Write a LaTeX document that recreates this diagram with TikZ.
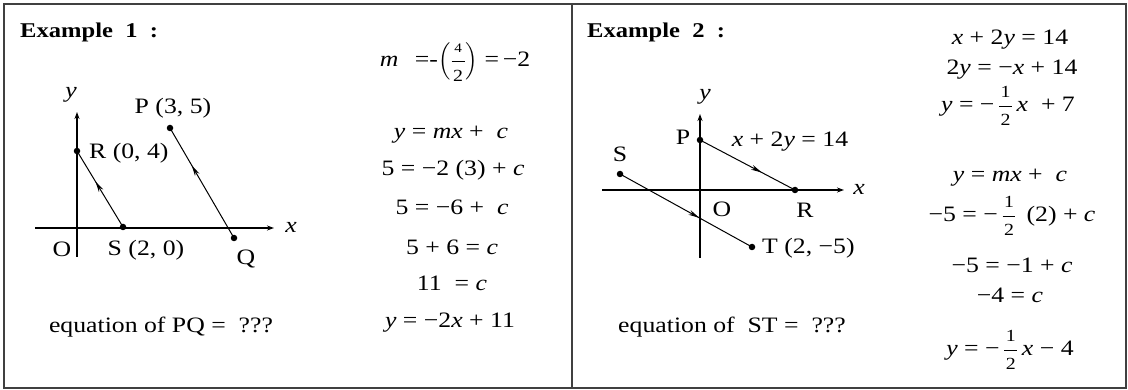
\documentclass[tikz,border=0pt]{standalone}
\usepackage{fontspec}
\usepackage{amsmath}
\setmainfont{Liberation Serif}[FakeStretch=1.17]
\usetikzlibrary{arrows.meta,decorations.markings}
\newcommand{\vi}[1]{\textit{#1}}
\newcommand{\smn}[1]{\text{\fontsize{17}{18}\selectfont\hspace{1.5pt}#1\hspace{1.5pt}}}
\newcommand{\hlf}{\ensuremath{\,\genfrac{}{}{0.6pt}{0}{\smn{1}}{\smn{2}}\,}}
\tikzset{
  txt/.style={inner sep=0pt, font=\fontsize{22}{26}\selectfont},
  ttl/.style={inner sep=0pt, font=\fontsize{21}{25}\selectfont\bfseries},
  dot/.style={circle, fill=black, inner sep=0pt, minimum size=6.5pt},
  axis/.style={line width=1.5pt, -{Stealth[length=7pt,width=5pt]}},
  seg/.style={line width=1pt, postaction={decorate},
    decoration={markings, mark=at position #1 with {\arrow{Stealth[length=11pt,width=5pt]}}}},
  frame/.style={line width=1.2pt, draw=black!75}
}
\begin{document}
\begin{tikzpicture}[x=1pt,y=-1pt]
\useasboundingbox (0,0) rectangle (1128,390);
% frame
\draw[frame] (4,4) rectangle (1126,388);
\draw[frame] (572,4) -- (572,388);

% ---------- Example 1 ----------
\node[ttl, anchor=west] (t1) at (20,32) {Example\ \ 1\ \ :};
\coordinate (y1b) at (77,257);
\coordinate (y1t) at (77,112);
\coordinate (x1l) at (35,228);
\coordinate (x1r) at (274,228);
\draw[axis] (y1b) -- (y1t);
\draw[axis] (x1l) -- (x1r);
\node[txt] (ly1) at (71,95) {\vi{y}};
\node[txt] (lx1) at (291,227) {\vi{x}};
\node[txt] (lo1) at (62,249) {O};
\node[dot] (R1) at (77,151) {};
\node[dot] (S1) at (123,227) {};
\node[dot] (P1) at (170,128) {};
\node[dot] (Q1) at (234,238) {};
\node[txt, anchor=west] (lR1) at (89,153) {R (0, 4)};
\node[txt] (lS1) at (146,250) {S (2, 0)};
\node[txt] (lP1) at (173,108) {P (3, 5)};
\node[txt] (lQ1) at (246,259) {Q};
\draw[seg=0.6] (S1.center) -- (R1.center);
\draw[seg=0.66] (Q1.center) -- (P1.center);
\node[txt] (q1) at (161,327) {equation of PQ =\ \ ???};

% equations 1
\node[txt] (e1) at (455,62) {\vi{m}\ \ \,=-$\left(\genfrac{}{}{0.6pt}{0}{\text{\fontsize{13}{14}\selectfont\hspace{2pt}4\hspace{2pt}}}{\smn{2}}\right)$ =\,−2};
\node[txt] (e2) at (451,135) {\vi{y} = \vi{mx} +\ \ \vi{c}};
\node[txt] (e3) at (453,170) {5 = −2 (3) + \vi{c}};
\node[txt] (e4) at (452,207) {5 = −6 +\ \ \vi{c}};
\node[txt] (e5) at (452,247) {5 + 6 = \vi{c}};
\node[txt] (e6) at (452,283) {11\ \ = \vi{c}};
\node[txt] (e7) at (450,323) {\vi{y} = −2\vi{x} + 11};

% ---------- Example 2 ----------
\node[ttl, anchor=west] (t2) at (587,32) {Example\ \ 2\ \ :};
\coordinate (y2b) at (700,258);
\coordinate (y2t) at (700,114);
\coordinate (x2l) at (602,190);
\coordinate (x2r) at (844,190);
\draw[axis] (y2b) -- (y2t);
\draw[axis] (x2l) -- (x2r);
\node[txt] (ly2) at (705,97) {\vi{y}};
\node[txt] (lx2) at (859,189) {\vi{x}};
\node[txt] (lo2) at (722,209) {O};
\node[dot] (P2) at (700,140) {};
\node[dot] (R2) at (795,190) {};
\node[dot] (S2) at (620,174) {};
\node[dot] (T2) at (752,247) {};
\node[txt] (lP2) at (683,137) {P};
\node[txt] (lR2) at (805,210) {R};
\node[txt] (lS2) at (620,154) {S};
\node[txt, anchor=west] (lT2) at (762,248) {T (2, −5)};
\node[txt] (leq2) at (790,142) {\vi{x} + 2\vi{y} = 14};
\draw[seg=0.65] (P2.center) -- (R2.center);
\draw[seg=0.6] (S2.center) -- (T2.center);
\node[txt] (q2) at (732,327) {equation of\ \ ST =\ \ ???};

% equations 2
\node[txt] (f1) at (1010,40) {\vi{x} + 2\vi{y} = 14};
\node[txt] (f2) at (1012,70) {2\vi{y} = −\vi{x} + 14};
\node[txt] (f3) at (1008,106) {\vi{y} = −\hlf\vi{x}\ \ + 7};
\node[txt] (f4) at (1010,178) {\vi{y} = \vi{mx} +\ \ \vi{c}};
\node[txt] (f5) at (1012,216) {−5 = −\hlf\ (2) + \vi{c}};
\node[txt] (f6) at (1012,265) {−5 = −1 + \vi{c}};
\node[txt] (f7) at (1010,295) {−4 = \vi{c}};
\node[txt] (f8) at (1010,350) {\vi{y} = −\hlf\vi{x} − 4};
\end{tikzpicture}
\end{document}
